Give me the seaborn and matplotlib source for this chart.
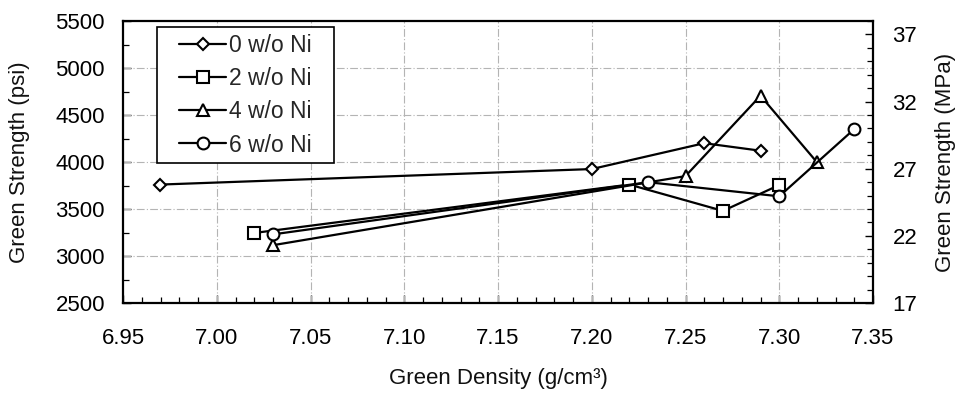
import numpy as np
import pandas as pd
import matplotlib
matplotlib.use("Agg")
import matplotlib.pyplot as plt
from matplotlib.patches import Rectangle
from matplotlib.ticker import MultipleLocator
import seaborn as sns

# Green density (g/cm3) and green strength (psi) per nickel content
series_names = ["0 w/o Ni", "2 w/o Ni", "4 w/o Ni", "6 w/o Ni"]
density_0 = [6.97, 7.20, 7.26, 7.29]
strength_0 = [3760, 3925, 4200, 4120]
density_2 = [7.02, 7.22, 7.27, 7.30]
strength_2 = [3245, 3760, 3480, 3755]
density_4 = [7.03, 7.25, 7.29, 7.32]
strength_4 = [3115, 3850, 4705, 4000]
density_6 = [7.03, 7.23, 7.30, 7.34]
strength_6 = [3230, 3785, 3635, 4350]

markers = ["D", "s", "^", "o"]
marker_sizes = [6, 8.5, 8.5, 8.5]

x_ticks = [6.95, 7.00, 7.05, 7.10, 7.15, 7.20, 7.25, 7.30, 7.35]
x_tick_labels = ["6.95", "7.00", "7.05", "7.10", "7.15", "7.20", "7.25", "7.30", "7.35"]
psi_ticks = [2500, 3000, 3500, 4000, 4500, 5000, 5500]
mpa_ticks = [17, 22, 27, 32, 37]

frames = []
for name, xs, ys in zip(series_names,
                        [density_0, density_2, density_4, density_6],
                        [strength_0, strength_2, strength_4, strength_6]):
    frames.append(pd.DataFrame({"density": xs, "strength": ys, "series": name}))
df = pd.concat(frames, ignore_index=True)

sns.set_theme(style="white")
plt.rcParams["font.family"] = ["Liberation Sans", "DejaVu Sans"]
plt.rcParams["font.size"] = 16

fig = plt.figure(figsize=(9.58, 3.93), dpi=100)
ax = fig.add_axes([123 / 958, 1 - 303 / 393, 750 / 958, 282 / 393])

for name, mk, ms in zip(series_names, markers, marker_sizes):
    sub = df[df["series"] == name]
    sns.lineplot(data=sub, x="density", y="strength", ax=ax, color="black",
                 marker=mk, markersize=ms, markerfacecolor="white",
                 markeredgecolor="black", markeredgewidth=1.5,
                 linewidth=1.6, label=name, sort=False, estimator=None,
                 zorder=3)

ax.set_xlim(6.95, 7.35)
ax.set_ylim(2500, 5500)
ax.set_xticks(x_ticks)
ax.set_xticklabels(x_tick_labels)
ax.set_yticks(psi_ticks)
ax.xaxis.set_minor_locator(MultipleLocator(0.01))
ax.yaxis.set_minor_locator(MultipleLocator(250))

grid_style = dict(color="#b4b4b4", linestyle=(0, (7, 2, 1, 2)), linewidth=0.8)
for xv in x_ticks[1:-1]:
    ax.axvline(xv, zorder=1, **grid_style)
for yv in psi_ticks[1:-1]:
    ax.axhline(yv, zorder=1, **grid_style)

for side in ["left", "right", "top", "bottom"]:
    ax.spines[side].set_color("black")
    ax.spines[side].set_linewidth(1.6)

ax.tick_params(axis="both", which="major", direction="in", length=6, width=1.0,
               colors="black", labelsize=16, left=True, bottom=True)
ax.tick_params(axis="both", which="minor", direction="in", length=4, width=0.9,
               colors="black", left=True, bottom=True)
ax.tick_params(axis="x", which="major", pad=18)
ax.tick_params(axis="y", which="major", pad=13)

ax.set_xlabel("Green Density (g/cm³)", fontsize=16, labelpad=14, color="#111111")
ax.set_ylabel("Green Strength (psi)", fontsize=16, labelpad=18, color="#111111")

ax2 = ax.twinx()
ax2.set_ylim(17, 38)
ax2.set_yticks(mpa_ticks)
ax2.yaxis.set_minor_locator(MultipleLocator(1))
ax2.tick_params(axis="y", which="major", direction="in", length=6, width=1.0,
                colors="black", labelsize=16, right=True, pad=14)
ax2.tick_params(axis="y", which="minor", direction="in", length=4, width=0.9,
                colors="black", right=True)
ax2.set_ylabel("Green Strength (MPa)", fontsize=16, labelpad=13, color="#111111")
for side in ["left", "right", "top", "bottom"]:
    ax2.spines[side].set_visible(False)

# legend entries without frame, plus a plain rectangular box around them
leg = ax.legend(loc="upper left", bbox_to_anchor=(0.0747, 0.953), frameon=False,
                fontsize=16.5, handlelength=2.05, handletextpad=0.12,
                labelspacing=0.44, borderpad=0, borderaxespad=0)
leg.set_zorder(6)
ax.add_patch(Rectangle((0.0453, 0.4965), 0.236, 0.4822, transform=ax.transAxes,
                       facecolor="white", edgecolor="black", linewidth=1.2,
                       zorder=5))

fig.savefig("out.png", dpi=100)
